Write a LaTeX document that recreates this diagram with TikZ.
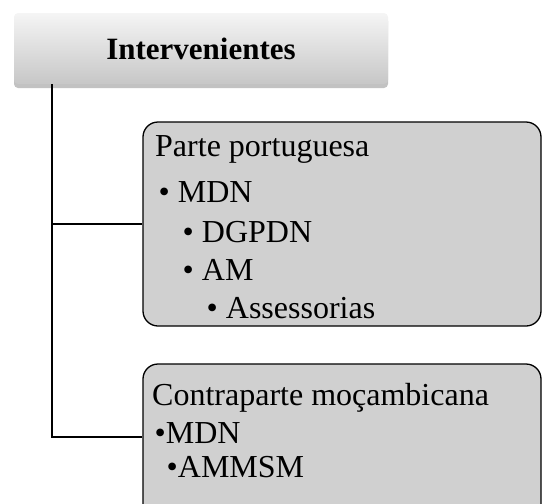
\documentclass[tikz,border=0pt]{standalone}
\usepackage{fontspec}
\setmainfont{Liberation Serif}
\usetikzlibrary{shadows}
\definecolor{boxgray}{HTML}{D0D0D0}
\begin{document}
\begin{tikzpicture}[x=1pt,y=-1pt,
  headbox/.style={rectangle, rounded corners=4pt, minimum width=374pt, minimum height=71pt,
    top color=white!96!black, bottom color=black!22, draw=none,
    drop shadow={shadow xshift=0pt, shadow yshift=-4pt, opacity=0.4, fill=black!60}},
  grpbox/.style={rectangle, rounded corners=15pt, draw=black, line width=1.3pt, fill=boxgray,
    minimum width=398pt},
  conn/.style={draw=black, line width=1.3pt},
  txt/.style={anchor=base west, inner sep=0pt, font=\fontsize{32}{32}\selectfont},
]
\useasboundingbox (0,0) rectangle (542,504);
\clip (0,0) rectangle (542,504);

\node[headbox] (top) at (201,48.5) {};
\node[font=\fontsize{31}{31}\selectfont\bfseries] (toptxt) at (201,48.5) {Intervenientes};

\node[grpbox, minimum height=204pt] (b1) at (342,224) {};
\node[grpbox, minimum height=160pt] (b2) at (342,444) {};

\coordinate (j1) at (52,224);
\coordinate (j2) at (52,437);
\draw[conn] (top.south -| j1) -- (j2) -- (j2 -| b2.west);
\draw[conn] (j1) -- (b1.west);

\node[txt] (t1) at (155,156) {Parte portuguesa};
\node[txt] (t2) at (158.5,202) {• MDN};
\node[txt] (t3) at (182.5,242) {• DGPDN};
\node[txt] (t4) at (182.5,280) {• AM};
\node[txt] (t5) at (206.5,318) {• Assessorias};

\node[txt] (u1) at (152,405) {Contraparte moçambicana};
\node[txt] (u2) at (154.5,443) {•MDN};
\node[txt] (u3) at (166.5,477) {•AMMSM};
\end{tikzpicture}
\end{document}
